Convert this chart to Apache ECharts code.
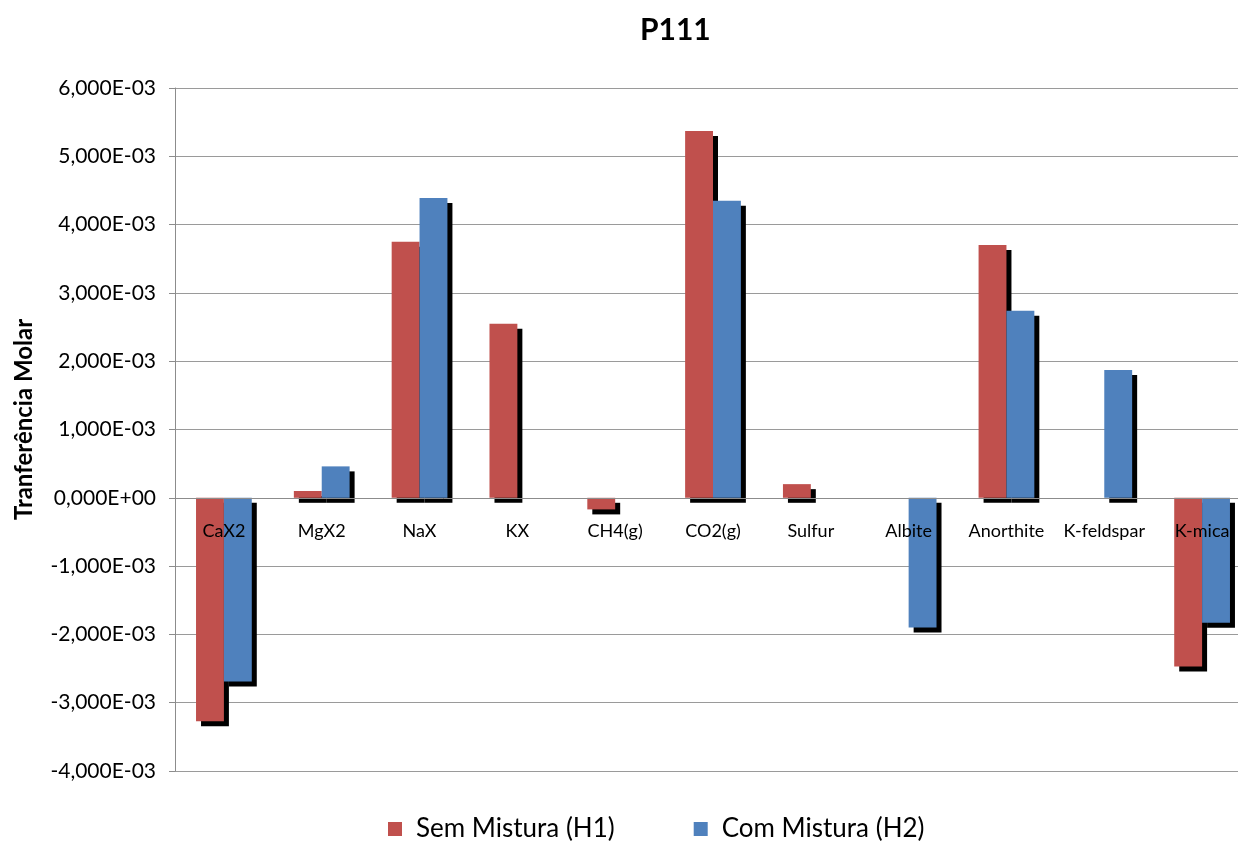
<!DOCTYPE html>
<html>
<head>
<meta charset="utf-8">
<script src="https://cdn.jsdelivr.net/npm/echarts@6/dist/echarts.min.js"></script>
<style>
  html, body { margin: 0; padding: 0; background: #fff; overflow: hidden; width: 1238px; height: 844px; }
  /* the plot area runs a little past the right edge of the window */
  #chart { width: 1251px; height: 844px; }
</style>
</head>
<body>
<div id="chart"></div>
<script>
// Molar transfer per phase, in units of 1E-03
const categories = ['CaX2', 'MgX2', 'NaX', 'KX', 'CH4(g)', 'CO2(g)', 'Sulfur', 'Albite', 'Anorthite', 'K-feldspar', 'K-mica'];
const semMistura = [-3.27, 0.10, 3.75, 2.55, -0.17, 5.37, 0.20, null, 3.70, null, -2.47];
const comMistura = [-2.69, 0.46, 4.39, null, null, 4.35, null, -1.90, 2.74, 1.87, -1.83];
const seriesNames = ['Sem Mistura (H1)', 'Com Mistura (H2)'];
const yTicks = { min: -4, max: 6, step: 1 };
const scale = 1e-3;

const toMolar = arr => arr.map(v => (v === null ? null : v * scale));

// Excel-style scientific tick labels with a decimal comma
function sciLabel(v) {
  if (Math.abs(v) < 1e-12) return '0,000E+00';
  const m = v / scale;
  return m.toFixed(3).replace('.', ',') + 'E-03';
}

const font = 'Lato, "Open Sans", sans-serif';
const barStyle = color => ({
  color: color,
  borderWidth: 0,
  shadowColor: '#000',
  shadowBlur: 0,
  shadowOffsetX: 5,
  shadowOffsetY: 5
});

const chart = echarts.init(document.getElementById('chart'), null, { renderer: 'canvas' });
chart.setOption({
  backgroundColor: '#fff',
  animation: false,
  title: {
    text: 'P111',
    left: 635,
    top: 10,
    textStyle: { fontFamily: font, fontSize: 30, fontWeight: 'bold', color: '#000' }
  },
  legend: {
    bottom: -3,
    left: 383,
    itemWidth: 14,
    itemHeight: 14,
    itemGap: 79,
    icon: 'rect',
    textStyle: { fontFamily: font, fontSize: 26, color: '#000', padding: [0, 0, 0, 9] },
    data: seriesNames
  },
  grid: { left: 175, right: 0, top: 88, bottom: 73, containLabel: false },
  xAxis: {
    type: 'category',
    data: categories,
    z: 5,
    axisLine: { onZero: false, lineStyle: { color: '#8c8c8c', width: 1 } },
    axisTick: { show: false },
    axisLabel: { interval: 0, margin: 24, fontFamily: font, fontSize: 18, color: '#000' }
  },
  yAxis: {
    type: 'value',
    min: yTicks.min * scale,
    max: yTicks.max * scale,
    interval: yTicks.step * scale,
    name: 'Tranferência Molar',
    nameLocation: 'middle',
    nameGap: 139,
    nameRotate: 90,
    nameTextStyle: { fontFamily: font, fontSize: 24, fontWeight: 'bold', color: '#000', padding: [0, 0, 0, 20] },
    axisLine: { show: true, lineStyle: { color: '#8c8c8c' } },
    axisTick: { show: true, length: 6, lineStyle: { color: '#8c8c8c' } },
    axisLabel: { formatter: sciLabel, margin: 19, fontFamily: font, fontSize: 21, color: '#000' },
    splitLine: { show: true, lineStyle: { color: '#9a9a9a', width: 1 } }
  },
  series: [
    {
      name: seriesNames[0],
      type: 'bar',
      data: toMolar(semMistura),
      barGap: '0%',
      barCategoryGap: '43%',
      itemStyle: barStyle('#C0504D'),
      // dark rule along the top of the plot area
      markLine: {
        silent: true,
        symbol: 'none',
        label: { show: false },
        lineStyle: { color: '#000', width: 1, type: 'solid' },
        data: [{ yAxis: yTicks.max * scale }]
      }
    },
    {
      name: seriesNames[1],
      type: 'bar',
      data: toMolar(comMistura),
      barGap: '0%',
      barCategoryGap: '43%',
      itemStyle: barStyle('#4F81BD')
    }
  ]
});

// Move the category axis (line and labels) up to the zero value
const zeroPx = chart.convertToPixel({ yAxisIndex: 0 }, 0);
const floorPx = chart.convertToPixel({ yAxisIndex: 0 }, yTicks.min * scale);
chart.setOption({ xAxis: { offset: zeroPx - floorPx } });
</script>
</body>
</html>
